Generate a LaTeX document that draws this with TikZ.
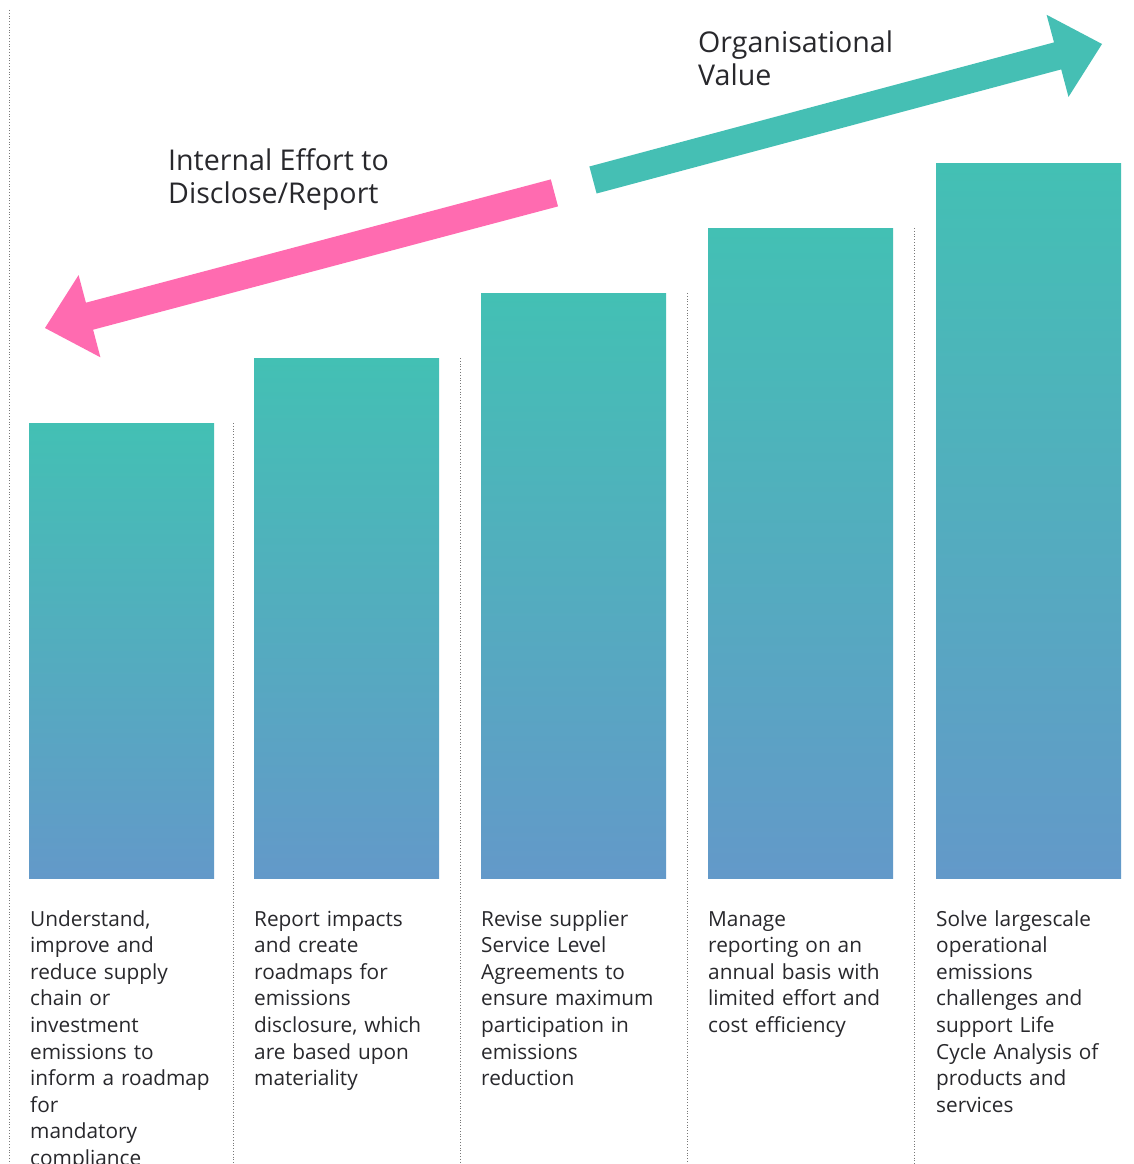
\documentclass[tikz,border=0pt]{standalone}
\usepackage{fontspec}
\setmainfont{Open Sans}
\definecolor{barTop}{RGB}{67,192,180}
\definecolor{barBot}{RGB}{99,153,201}
\definecolor{pinkA}{RGB}{255,107,176}
\definecolor{tealA}{RGB}{69,191,180}
\definecolor{txt}{RGB}{40,40,44}
\definecolor{divc}{RGB}{120,120,120}
\tikzset{
  bar/.style={anchor=north west, inner sep=0pt, outer sep=0pt, minimum width=185pt,
    top color=barTop, bottom color=barBot, draw=none},
  divider/.style={draw=divc, line width=0.8pt, dotted},
  body/.style={anchor=base west, inner sep=0pt, text width=205pt, align=left, text=txt,
    font=\fontsize{20.8}{26.6}\selectfont},
  heading/.style={anchor=base west, inner sep=0pt, align=left, text=txt,
    font=\fontsize{28.6}{33}\selectfont},
}
\begin{document}
\begin{tikzpicture}[x=1pt,y=-1pt]
\useasboundingbox[fill=white] (0,0) rectangle (1134,1164);

% dividers
\coordinate (d0t) at (9,10);    \coordinate (d0b) at (9,1164);
\coordinate (d1t) at (233,423); \coordinate (d1b) at (233,1164);
\coordinate (d2t) at (460,358); \coordinate (d2b) at (460,1164);
\coordinate (d3t) at (687,293); \coordinate (d3b) at (687,1164);
\coordinate (d4t) at (914,228); \coordinate (d4b) at (914,1164);
\draw[divider] (d0t) -- (d0b);
\draw[divider] (d1t) -- (d1b);
\draw[divider] (d2t) -- (d2b);
\draw[divider] (d3t) -- (d3b);
\draw[divider] (d4t) -- (d4b);

% bars
\node[bar, minimum height=455pt] (b1) at (29,423) {};
\node[bar, minimum height=520pt] (b2) at (254,358) {};
\node[bar, minimum height=585pt] (b3) at (481,293) {};
\node[bar, minimum height=650pt] (b4) at (708,228) {};
\node[bar, minimum height=715pt] (b5) at (936,163) {};

% pink arrow (effort)
\coordinate (pTip) at (45,328);
\coordinate (pB1) at (78.6,275.1);
\coordinate (pJ1) at (85.9,302.7);
\coordinate (pT1) at (550.8,179.4);
\coordinate (pT2) at (558.0,206.4);
\coordinate (pJ2) at (93.1,329.7);
\coordinate (pB2) at (100.4,357.3);
\fill[pinkA] (pTip) -- (pB1) -- (pJ1) -- (pT1) -- (pT2) -- (pJ2) -- (pB2) -- cycle;

% teal arrow (value)
\coordinate (tTip) at (1102,44);
\coordinate (tB1) at (1046.6,14.8);
\coordinate (tJ1) at (1054.0,42.4);
\coordinate (tT1) at (589.4,166.5);
\coordinate (tT2) at (596.6,193.5);
\coordinate (tJ2) at (1061.2,69.4);
\coordinate (tB2) at (1068.5,96.9);
\fill[tealA] (tTip) -- (tB1) -- (tJ1) -- (tT1) -- (tT2) -- (tJ2) -- (tB2) -- cycle;

% headings (anchor = baseline of last line)
\node[heading] (hEffort) at (168,203) {Internal Effort to\\Disclose/Report};
\node[heading] (hValue) at (698,85) {Organisational\\Value};

% body texts
\node[body] (t1) at (30,926) {Understand,\\improve and\\reduce supply\\chain or\\investment\\emissions to\\inform a roadmap\\for\\mandatory\\compliance};
\node[body] (t2) at (254,926) {Report impacts\\and create\\roadmaps for\\emissions\\disclosure, which\\are based upon\\materiality};
\node[body] (t3) at (481,926) {Revise supplier\\Service Level\\Agreements to\\ensure maximum\\participation in\\emissions\\reduction};
\node[body] (t4) at (708,926) {Manage\\reporting on an\\annual basis with\\limited effort and\\cost efficiency};
\node[body] (t5) at (936,926) {Solve largescale\\operational\\emissions\\challenges and\\support Life\\Cycle Analysis of\\products and\\services};
\end{tikzpicture}
\end{document}
